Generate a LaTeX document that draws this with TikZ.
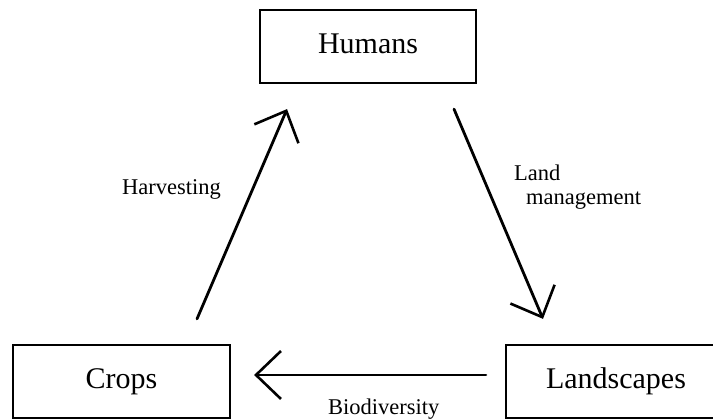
\documentclass[tikz,border=0pt]{standalone}
\usepackage{fontspec}
\setmainfont{Liberation Serif}
\usetikzlibrary{arrows.meta}
\begin{document}
\begin{tikzpicture}[x=1pt,y=1pt,
  box/.style={draw=black, line width=2.2pt, minimum height=73pt, inner sep=0pt,
    font=\fontsize{30}{34}\selectfont, text height=20pt, text depth=5pt},
  lbl/.style={inner sep=0pt, anchor=base west, font=\fontsize{22.5}{26}\selectfont},
  arr/.style={line width=2.8pt, line cap=round,
    -{Straight Barb[length=25pt,width=48pt,line width=2.6pt]}}]
\useasboundingbox (0,0) rectangle (713,419);
\node[box, minimum width=216pt] (humans) at (368,372.5) {Humans};
\node[box, minimum width=217pt] (crops) at (121.5,37.5) {Crops};
\node[box, minimum width=220pt] (landscapes) at (616,37.5) {Landscapes};
\coordinate (h1) at ([shift={(75.5pt,25pt)}]crops.north);
\coordinate (h2) at ([shift={(-81pt,-25pt)}]humans.south);
\coordinate (l1) at ([shift={(86pt,-25pt)}]humans.south);
\coordinate (l2) at ([shift={(-73pt,25pt)}]landscapes.north);
\coordinate (b1) at ([shift={(-19pt,6.5pt)}]landscapes.west);
\coordinate (b2) at ([shift={(23pt,6.5pt)}]crops.east);
\draw[arr] (h1) -- (h2);
\draw[arr] (l1) -- (l2);
\draw[arr] (b1) -- (b2);
\node[lbl] (harv) at (122,224) {Harvesting};
\node[lbl] (land) at (514,238) {Land};
\node[lbl] (mgmt) at (526,214) {management};
\node[lbl] (bio) at (328,4) {Biodiversity};
\end{tikzpicture}
\end{document}
